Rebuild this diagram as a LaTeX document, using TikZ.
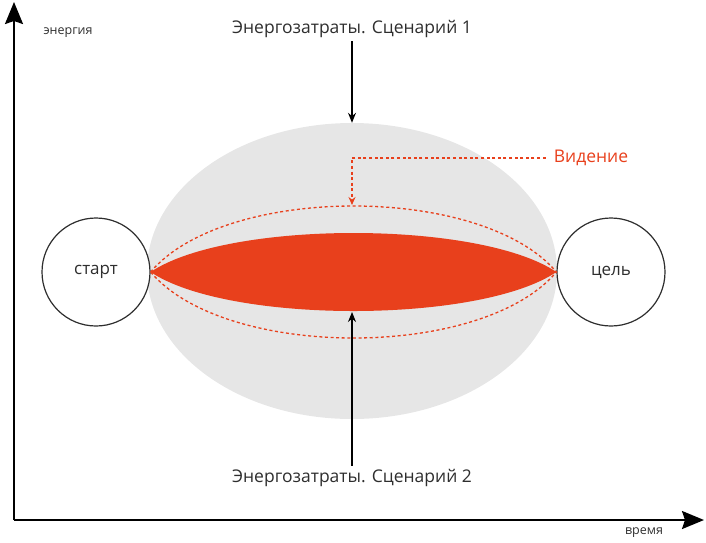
\documentclass[tikz,border=0pt]{standalone}
\usepackage{fontspec}
\setmainfont{Open Sans}
\usetikzlibrary{arrows.meta,shapes.geometric}
\definecolor{vred}{HTML}{E8401C}
\definecolor{fog}{HTML}{E6E6E6}
\definecolor{ink}{HTML}{2E2E2E}
\tikzset{
    goalnode/.style={circle,draw=ink,fill=white,line width=1.2pt,minimum size=108pt,inner sep=0pt,font=\fontsize{17}{19}\selectfont,text=ink},
    caption/.style={font=\fontsize{17.5}{20}\selectfont,text=ink},
    axislabel/.style={font=\fontsize{12.5}{14}\selectfont,text=ink},
    visiondash/.style={vred,line width=1.3pt,dash pattern=on 3pt off 2.6pt},
}
\begin{document}
\begin{tikzpicture}[x=1pt,y=-1pt,>={Stealth[length=10pt,width=8pt]}]
    \useasboundingbox (0,0) rectangle (706,542);
    % axes
    \coordinate (O) at (14,520);
    \coordinate (X) at (704,520);
    \coordinate (Y) at (14,2);
    \draw[line width=2pt,-{Stealth[length=22pt,width=18pt,inset=3pt]}](O)--(X);
    \draw[line width=2pt,-{Stealth[length=22pt,width=18pt,inset=3pt]}](O)--(Y);
    \node[axislabel] (energy) at (68,33) {энергия};
    \node[axislabel] (time) at (644,533) {время};
    % cloud of scenario 1
    \node[ellipse,fill=fog,minimum width=410pt,minimum height=296pt,inner sep=0pt] (cloud) at (352,271) {};
    % goal circles
    \node[goalnode] (start) at (96,272) {старт};
    \node[goalnode] (goal) at (611,272) {цель};
    % scenario 2 and vision
    \fill[vred](start.east) .. controls (228,220) and (479,220) .. (goal.west)
        .. controls (479,324) and (228,324) .. (start.east);
    \draw[visiondash](start.east) .. controls (225,184) and (482,184) .. (goal.west)
        .. controls (482,360) and (225,360) .. (start.east);
    \coordinate (lenstop) at (352,205);
    \coordinate (lensbot) at (352,312);
    % labels
    \node[caption] (sc1) at (352,29) {Энергозатраты. Сценарий 1};
    \node[caption] (sc2) at (352,478) {Энергозатраты. Сценарий 2};
    \node[caption,text=vred,inner sep=2pt] (vision) at (591,158) {Видение};
    \draw[line width=1.2pt,->](sc1.south)--(cloud.north);
    \draw[line width=1.2pt,->](sc2.north)--(lensbot);
    \draw[visiondash,-{Stealth[length=8pt,width=7pt]}]([xshift=-6pt]vision.west)-|(lenstop);
\end{tikzpicture}
\end{document}
